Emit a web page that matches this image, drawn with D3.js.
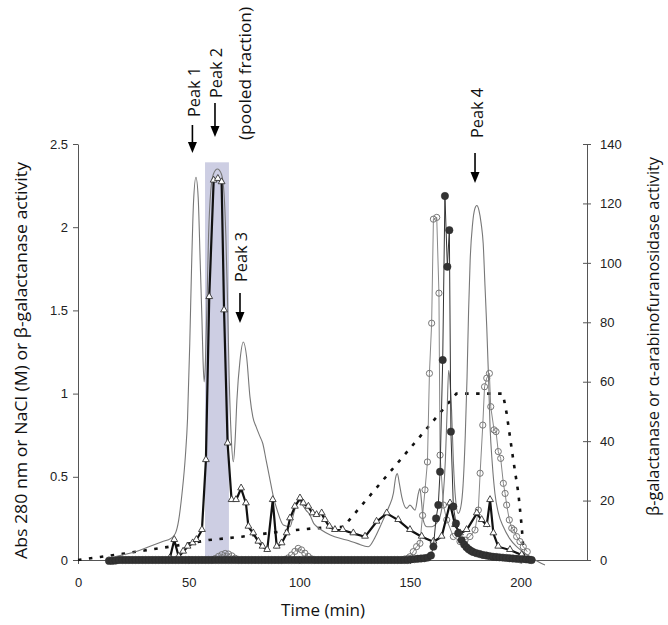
<!DOCTYPE html>
<html>
<head>
<meta charset="utf-8">
<script src="https://cdn.jsdelivr.net/npm/d3@7"></script>
<style>
  html, body { margin: 0; padding: 0; background: #fff; }
  svg { display: block; }
</style>
</head>
<body>
<svg id="chart" width="668" height="625"></svg>
<script>
// ---------------- DATA ----------------
const xTicks = [0, 50, 100, 150, 200];
const yLeftTicks = [0, 0.5, 1, 1.5, 2, 2.5];
const yRightTicks = [0, 20, 40, 60, 80, 100, 120, 140];

// pooled fraction (Peak 2) shaded band: [start, end] min, top value (left axis)
const pooledRange = [57.4, 68.2];
const pooledTop = 2.39;

// Abs 280 nm (left axis) – thin grey line
const absTime = [14,20,26,32,38,42,44,45.5,47,48.5,49.5,50.5,51.3,52.2,53.3,54.3,55.2,56,56.5,57,57.6,58.2,59,60,61.2,63,64.8,66,66.8,67.5,68.3,69.2,70.2,71,71.8,73.2,74.7,76.2,77.7,79,80.5,82.3,83.5,85,86.5,88.3,90,92.8,95.8,97.5,99.6,101.5,103,104.8,106.5,108,110,114,121.4,126,131.2,134,136.5,138.5,140.5,142.5,143.6,144.3,145.2,146.3,148.5,150,152.3,153.8,154.5,155.3,156,157.6,160,162,163.6,165,166,166.8,167.5,168.2,168.8,169.6,170.4,171.8,173,174,175,175.8,176.5,177.2,178.3,179.3,180.2,181.2,182.2,183.1,183.9,184.7,185.5,186.2,187.2,188.4,190,192.2,195,198.2,201,204.2,208,211];
const absVal  = [0.01,0.03,0.05,0.08,0.11,0.13,0.16,0.24,0.4,0.62,0.85,1.3,1.75,2.15,2.30,2.18,1.8,1.45,1.2,1.07,1.2,1.5,1.95,2.22,2.32,2.35,2.32,2.2,1.95,1.6,1.1,0.75,0.59,0.72,0.96,1.2,1.31,1.22,0.98,0.86,0.8,0.74,0.7,0.6,0.5,0.38,0.3,0.21,0.2,0.28,0.36,0.33,0.3,0.27,0.22,0.2,0.18,0.15,0.12,0.1,0.08,0.13,0.2,0.26,0.32,0.4,0.5,0.52,0.46,0.38,0.31,0.33,0.3,0.4,0.43,0.34,0.24,0.2,0.2,0.22,0.26,0.38,0.6,0.9,1.14,1.05,0.9,0.6,0.4,0.28,0.32,0.45,0.75,1.1,1.5,1.8,2.02,2.11,2.13,2.1,2.02,1.9,1.65,1.4,1.1,0.8,0.58,0.4,0.28,0.2,0.13,0.08,0.05,0.02,-0.01,-0.03];

// NaCl (M) (left axis) – dotted line
const naclTime = [0,10,20,30,44,59,74,91,106,120,171,192,193.7,196.7,199,200.5,201.5];
const naclVal  = [0,0.018,0.037,0.057,0.085,0.12,0.14,0.17,0.19,0.2,1.0,1.0,0.88,0.6,0.4,0.2,0.02];

// beta-galactanase activity (left axis) – open triangles, thick line
const galTime = [41.5,43.5,45.5,47.5,49.5,51.8,53.5,56,57.8,59.3,61.3,63.2,64.9,66,67.6,69.4,71.4,73.7,75.9,77,79.2,81.5,83.4,85.5,88,89.8,92,94.3,95.8,98,100.3,101.8,104.1,106,107.8,110.1,111.6,113.6,116.1,119.6,124.4,129.7,134.9,139.5,144.7,150,155.3,160.6,164.3,168.1,170.4,172.6,175.6,180.2,182.4,184.7,186.2,187.7,189.9,195.2,200.5,203.4];
const galVal  = [0.01,0.12,0.02,0.05,0.08,0.1,0.12,0.18,0.6,1.58,2.28,2.29,2.27,1.5,0.7,0.36,0.36,0.43,0.34,0.2,0.16,0.11,0.08,0.06,0.36,0.08,0.1,0.16,0.25,0.32,0.37,0.34,0.32,0.28,0.27,0.28,0.24,0.2,0.18,0.18,0.16,0.14,0.23,0.28,0.24,0.18,0.14,0.11,0.14,0.34,0.21,0.16,0.18,0.28,0.24,0.21,0.36,0.16,0.08,0.06,0.03,0.0];

// beta-galactanase activity (right axis) – open circles
const ocTime = [14,15.5,17,18.5,20,21.5,23,24.5,26,27.5,29,30.5,32,33.5,35,36.5,38,39.5,41,42.5,44,45.5,47,48.5,50,51.5,53,54.5,56,57.5,59,60.5,62,63.5,65,66.5,68,69.5,71,72.5,74,75.5,77,78.5,80,81.5,83,84.5,86,87.5,89,90.5,92,93.5,95,96.5,98,99.5,101,102.5,104,105.5,107,108.5,110,111.5,113,114.5,116,117.5,119,120.5,122,123.5,125,126.5,128,129.5,131,132.5,134,135.5,137,138.5,140,141.5,143,144.5,146,147.5,149,150,151.5,153,154.5,155.7,156.8,157.9,158.8,159.8,160.6,162.1,163.1,163.6,165.1,166.6,169.6,172.6,174.9,177.1,179.4,180.9,181.7,182.9,183.7,184.7,185.9,186.5,188,188.9,189.9,191,192.2,193,193.7,194.9,196,197,198.2,199.7,201.2,203];
const ocVal  = [0,0,0,0,0,0,0,0,0,0,0,0,0,0,0,0,0,0,0,0,0,0,0,0,0,0,0,0,0,0,0,0,0.5,1.2,1.8,2.2,2.0,1.4,0.6,0,0,0,0,0,0,0,0,0,0,0,0,0,0,0.2,0.7,1.7,2.9,3.9,3.4,2.3,1.2,0.4,0,0,0,0,0,0,0,0,0,0,0,0,0,0,0,0,0,0,0,0,0,0,0,0,0,0,0,0.3,0.6,1.1,2.8,4.5,5.6,15,23.6,33,62.8,79.7,114.7,115.3,89.8,35.3,18.5,13.5,7.9,6.2,6.7,7.9,10.1,16.8,29.2,45.4,58.3,61.2,62.8,51.6,43.8,43.2,36.5,34.2,25.8,22.4,18.5,13.5,10.7,10.1,7.9,6.2,4.5,2.8,1.1];

// alpha-arabinofuranosidase activity (right axis) – closed circles
const cfTime = [14,15.5,17,18.5,20,21.5,23,24.5,26,27.5,29,30.5,32,33.5,35,36.5,38,39.5,41,42.5,44,45.5,47,48.5,50,51.5,53,54.5,56,57.5,59,60.5,62,63.5,65,66.5,68,69.5,71,72.5,74,75.5,77,78.5,80,81.5,83,84.5,86,87.5,89,90.5,92,93.5,95,96.5,98,99.5,101,102.5,104,105.5,107,108.5,110,111.5,113,114.5,116,117.5,119,120.5,122,123.5,125,126.5,128,129.5,131,132.5,134,135.5,137,138.5,140,141.5,143,144.5,146,147.5,149,150.5,152,153.5,155,156.5,158,159.5,160.6,161.8,162.8,163.6,164.8,165.8,166.9,167.8,168.5,169.6,170.8,171.8,173.3,174.5,175.5,176.5,177.5,178.5,180,181.5,183,184.5,186,187.5,189,190.5,192,193.5,195,196.5,198,199.5,201,202.5,204,205];
const cfVal  = [-0.3,-0.3,-0.2,0,0,0,0,0,0,0,0,0,0,0,0,0,0,0,0,0,0,0,0,0,0,0,0,0,0,0,0,0,0,0,0,0,0,0,0,0,0,0,0,0,0,0,0,0,0,0,0,0,0,0,0,0,0,0,0,0,0,0,0,0,0,0,0,0,0,0,0,0,0,0,0,0,0,0,0,0,0,0,0,0,0,0,0,0,0,0,0,0.2,0.3,0.4,0.5,0.6,0.8,1.5,4.5,14,18.5,29.7,67.3,122.5,98.7,111,43.2,18,12.3,9,6.7,5.2,4.3,3.6,3.1,2.7,2.3,2,1.7,1.5,1.3,1.1,1,0.9,0.8,0.7,0.6,0.5,0.4,0.3,0.3,0.2,0.1,0];

// Peak annotations
const peakNames = ["Peak 1", "Peak 2", "Peak 3", "Peak 4"];
const peakTimes = [51.7, 61.9, 73.2, 179.4];
const peakNote = "(pooled fraction)";

// ---------------- CHART ----------------
const svg = d3.select("#chart");
const x = d3.scaleLinear().domain([0, 230]).range([78, 587]);
const yL = d3.scaleLinear().domain([0, 2.5]).range([560, 144]);
const yR = d3.scaleLinear().domain([0, 140]).range([560, 144]);

const tickFont = "'Liberation Sans', Arial, sans-serif";
const titleFont = "'Open Sans', 'Noto Sans', sans-serif";

svg.append("rect").attr("width", 668).attr("height", 625).attr("fill", "#fff");

// shaded pooled fraction
svg.append("rect")
  .attr("x", x(pooledRange[0])).attr("width", x(pooledRange[1]) - x(pooledRange[0]))
  .attr("y", yL(pooledTop)).attr("height", yL(0) - yL(pooledTop))
  .attr("fill", "#cdcee3");

const zip = (ts, vs) => ts.map((t, i) => [t, vs[i]]);
const absData = zip(absTime, absVal);
const naclData = zip(naclTime, naclVal);
const galData = zip(galTime, galVal);
const ocData = zip(ocTime, ocVal);
const cfData = zip(cfTime, cfVal);

// Axes
const axL = svg.append("g").attr("transform", "translate(78,0)")
  .call(d3.axisLeft(yL).tickValues(yLeftTicks).tickSizeInner(5).tickSizeOuter(0).tickPadding(5).tickFormat(d => String(d)));
const axR = svg.append("g").attr("transform", "translate(587,0)")
  .call(d3.axisRight(yR).tickValues(yRightTicks).tickSizeInner(4).tickSizeOuter(0).tickPadding(9).tickFormat(d => String(d)));
axR.selectAll(".tick line").attr("x1", -4);
const axB = svg.append("g").attr("transform", "translate(0,560)")
  .call(d3.axisBottom(x).tickValues(xTicks).tickSizeInner(4).tickSizeOuter(0).tickPadding(14).tickFormat(d => String(d)));
axB.selectAll(".tick line").attr("y1", -4);

[axL, axR, axB].forEach(a => {
  a.select(".domain").attr("stroke", "#555").attr("stroke-width", 1);
  a.selectAll(".tick line").attr("stroke", "#555");
  a.selectAll(".tick text").attr("font-family", tickFont).attr("font-size", 13).attr("fill", "#222");
});

// Lines
const lineL = d3.line().x(d => x(d[0])).y(d => yL(d[1]));
const lineLsmooth = d3.line().x(d => x(d[0])).y(d => yL(d[1])).curve(d3.curveMonotoneX);
const lineR = d3.line().x(d => x(d[0])).y(d => yR(d[1]));

// NaCl dotted
svg.append("path").datum(naclData).attr("d", lineL)
  .attr("fill", "none").attr("stroke", "#111").attr("stroke-width", 2.6)
  .attr("stroke-dasharray", "3.5,7.5");

// Abs 280 thin grey
svg.append("path").datum(absData).attr("d", lineLsmooth)
  .attr("fill", "none").attr("stroke", "#777").attr("stroke-width", 1.1);

// open circles (right axis)
svg.append("path").datum(ocData).attr("d", lineR)
  .attr("fill", "none").attr("stroke", "#888").attr("stroke-width", 1);
svg.append("g").selectAll("circle").data(ocData).join("circle")
  .attr("cx", d => x(d[0])).attr("cy", d => yR(d[1])).attr("r", 3.1)
  .attr("fill", "none").attr("stroke", "#777").attr("stroke-width", 1);

// triangles (left axis)
svg.append("path").datum(galData).attr("d", lineL)
  .attr("fill", "none").attr("stroke", "#111").attr("stroke-width", 2.2);
const tri = d3.symbol().type(d3.symbolTriangle).size(20);
svg.append("g").selectAll("path").data(galData).join("path")
  .attr("transform", d => `translate(${x(d[0])},${yL(d[1]) - 0.5})`)
  .attr("d", tri).attr("fill", "#fff").attr("stroke", "#333").attr("stroke-width", 0.9);

// closed circles (right axis)
svg.append("path").datum(cfData).attr("d", lineR)
  .attr("fill", "none").attr("stroke", "#333").attr("stroke-width", 1);
svg.append("g").selectAll("circle").data(cfData).join("circle")
  .attr("cx", d => x(d[0])).attr("cy", d => yR(d[1])).attr("r", 3.7)
  .attr("fill", "#333").attr("stroke", "#2a2a2a").attr("stroke-width", 0.5);

// Axis titles
function rotText(cx, cy, str, len, size) {
  svg.append("text")
    .attr("transform", `translate(${cx},${cy}) rotate(-90)`)
    .attr("text-anchor", "middle").attr("dominant-baseline", "central")
    .attr("font-family", titleFont).attr("font-size", size).attr("fill", "#111")
    .attr("textLength", len).attr("lengthAdjust", "spacingAndGlyphs")
    .text(str);
}
rotText(21, 360.5, "Abs 280 nm or NaCl (M) or β-galactanase activity", 397, 16);
rotText(653, 336.5, "β-galactanase or α-arabinofuranosidase activity", 359, 16);

svg.append("text").attr("x", 323).attr("y", 610)
  .attr("text-anchor", "middle").attr("dominant-baseline", "central")
  .attr("font-family", titleFont).attr("font-size", 16).attr("fill", "#111")
  .attr("textLength", 84).attr("lengthAdjust", "spacingAndGlyphs")
  .text("Time (min)");

// Peak annotations (arrow tip y, arrow top y, text centre y)
const arrowGeom = [[153, 125, 92], [137, 103, 73], [323, 293, 257], [183, 153, 113]];
peakNames.forEach((name, i) => {
  const ax = x(peakTimes[i]);
  const [tip, top, ty] = arrowGeom[i];
  svg.append("line").attr("x1", ax).attr("x2", ax).attr("y1", top).attr("y2", tip - 9)
    .attr("stroke", "#000").attr("stroke-width", 1.6);
  svg.append("path")
    .attr("d", `M${ax - 4.5},${tip - 11} L${ax + 4.5},${tip - 11} L${ax},${tip} Z`)
    .attr("fill", "#000");
  rotText(ax + 1.5, ty, name, 50, 16);
});
rotText(x(peakTimes[1]) + 30, 73.5, peakNote, 133, 16);
</script>
</body>
</html>
